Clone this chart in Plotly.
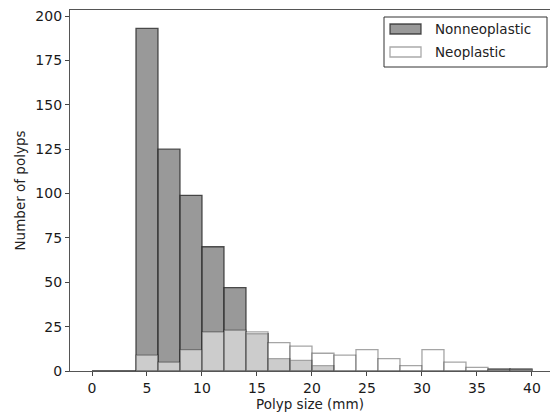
import plotly.graph_objects as go

bin_left = [0, 2, 4, 6, 8, 10, 12, 14, 16, 18, 20, 22, 24, 26, 28, 30, 32, 34, 36, 38]
bin_width = 2
nonneoplastic = [0, 0, 193, 125, 99, 70, 47, 21, 7, 6, 3, 0, 0, 0, 0, 0, 0, 0, 1, 1]
neoplastic = [0, 0, 9, 5, 12, 22, 23, 22, 16, 14, 10, 9, 12, 7, 3, 12, 5, 2, 1, 1]
series_names = ["Nonneoplastic", "Neoplastic"]
x_ticks = [0, 5, 10, 15, 20, 25, 30, 35, 40]
y_ticks = [0, 25, 50, 75, 100, 125, 150, 175, 200]

centers = [b + bin_width / 2 for b in bin_left]
font = "DejaVu Sans, sans-serif"

fill_non = "rgba(128,128,128,0.8)"
edge_non = "rgba(40,40,40,0.8)"
fill_neo = "rgba(255,255,255,0.5)"
edge_neo = "rgba(40,40,40,0.42)"

fig = go.Figure()
fig.add_trace(go.Bar(
    x=centers, y=nonneoplastic, width=bin_width, name=series_names[0],
    marker=dict(color=fill_non, line=dict(color=edge_non, width=1.3)),
))
fig.add_trace(go.Bar(
    x=centers, y=neoplastic, width=bin_width, name=series_names[1],
    marker=dict(color=fill_neo, line=dict(color=edge_neo, width=1.3)),
))

# plot area in pixels: x 70..550, y 10..371
L, R, T, B = 70, 550, 10, 371
def px(x):
    return (x - L) / (R - L)
def py(y):
    return (B - y) / (B - T)

shapes = [
    dict(type="rect", xref="paper", yref="paper", x0=px(384), x1=px(547), y0=py(67), y1=py(17),
         line=dict(color="#333", width=1), fillcolor="white", layer="above"),
    dict(type="rect", xref="paper", yref="paper", x0=px(390), x1=px(421), y0=py(34), y1=py(24),
         line=dict(color=edge_non, width=1.3), fillcolor="#999999", layer="above"),
    dict(type="rect", xref="paper", yref="paper", x0=px(390), x1=px(421), y0=py(57), y1=py(47),
         line=dict(color="#aaaaaa", width=1.3), fillcolor="white", layer="above"),
]
annotations = [
    dict(xref="paper", yref="paper", x=px(433), y=py(29), text=series_names[0], showarrow=False,
         xanchor="left", yanchor="middle", font=dict(size=13.5, family=font, color="#222")),
    dict(xref="paper", yref="paper", x=px(433), y=py(52), text=series_names[1], showarrow=False,
         xanchor="left", yanchor="middle", font=dict(size=13.5, family=font, color="#222")),
]

fig.update_layout(
    width=550, height=414,
    margin=dict(l=L, r=550 - R, t=T, b=414 - B),
    barmode="overlay",
    plot_bgcolor="white", paper_bgcolor="white",
    font=dict(family=font, size=13.5, color="#222"),
    showlegend=False,
    shapes=shapes,
    annotations=annotations,
)
fig.update_xaxes(
    range=[-2, 41.64], tickmode="array", tickvals=x_ticks, automargin=False,
    ticks="outside", ticklen=4, tickcolor="#444", showgrid=False, zeroline=False,
    showline=True, linecolor="#555", linewidth=1.3, mirror=True,
    title=dict(text="Polyp size (mm)", font=dict(size=13.5, family=font), standoff=2),
    tickfont=dict(size=14, family=font, color="#1a1a1a"),
)
fig.update_yaxes(
    range=[0, 203.4], tickmode="array", tickvals=y_ticks, automargin=False,
    ticks="outside", ticklen=4, tickcolor="#444", showgrid=False, zeroline=False,
    showline=True, linecolor="#555", linewidth=1.3,
    title=dict(text="Number of polyps", font=dict(size=13.5, family=font), standoff=6),
    tickfont=dict(size=14, family=font, color="#1a1a1a"),
)

fig.write_html("out.html", config={"displayModeBar": False},
               post_script="document.body.style.margin='0';")
